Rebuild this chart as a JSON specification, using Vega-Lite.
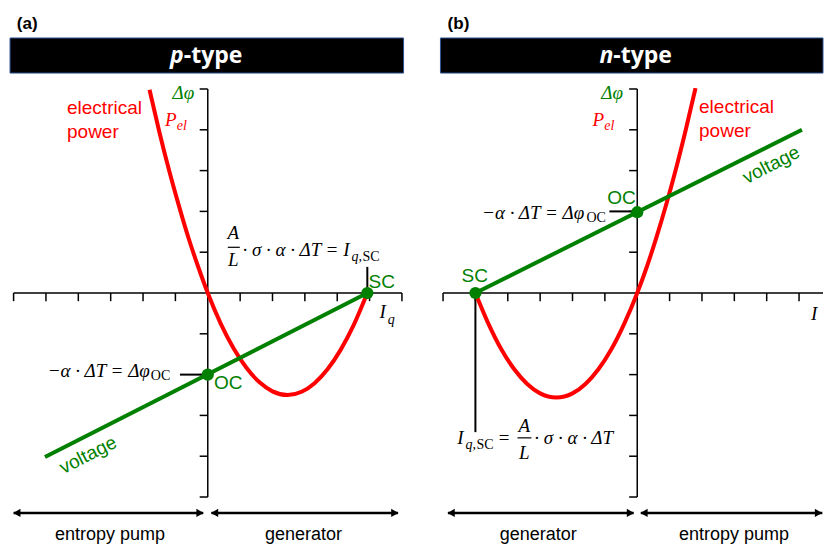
{
  "$schema": "https://vega.github.io/schema/vega-lite/v6.json",
  "width": 824,
  "height": 545,
  "autosize": {"type": "fit", "contains": "padding"},
  "padding": 0,
  "background": "#ffffff",
  "config": {"view": {"stroke": null}},
  "resolve": {"scale": {"x": "independent"}},
  "layer": [
    {
      "layer": [
        {
          "data": {"values": [{"x": -6.11, "x2": 6.05, "y": 5.39, "y2": 6.25}]},
          "mark": {"type": "rect", "fill": "#000000", "stroke": "#2F5597", "strokeWidth": 1},
          "encoding": {
            "x": {"field": "x", "type": "quantitative", "scale": {"domain": [-6.42, 19.01], "nice": false, "zero": false}, "axis": null},
            "x2": {"field": "x2"},
            "y": {"field": "y", "type": "quantitative", "scale": {"domain": [-6.176, 7.181], "nice": false, "zero": false}, "axis": null},
            "y2": {"field": "y2"}
          }
        },
        {
          "data": {"values": [
            {"x": -6, "y": 0, "x2": 6, "y2": 0},
            {"x": 0, "y": -5, "x2": 0, "y2": 5},
            {"x": -6, "y": 0, "x2": -6, "y2": -0.2},
            {"x": -5, "y": 0, "x2": -5, "y2": -0.2},
            {"x": -4, "y": 0, "x2": -4, "y2": -0.2},
            {"x": -3, "y": 0, "x2": -3, "y2": -0.2},
            {"x": -2, "y": 0, "x2": -2, "y2": -0.2},
            {"x": -1, "y": 0, "x2": -1, "y2": -0.2},
            {"x": 1, "y": 0, "x2": 1, "y2": -0.2},
            {"x": 2, "y": 0, "x2": 2, "y2": -0.2},
            {"x": 3, "y": 0, "x2": 3, "y2": -0.2},
            {"x": 4, "y": 0, "x2": 4, "y2": -0.2},
            {"x": 5, "y": 0, "x2": 5, "y2": -0.2},
            {"x": 6, "y": 0, "x2": 6, "y2": -0.2},
            {"x": 0, "y": -5, "x2": -0.25, "y2": -5},
            {"x": 0, "y": -4, "x2": -0.25, "y2": -4},
            {"x": 0, "y": -3, "x2": -0.25, "y2": -3},
            {"x": 0, "y": -2, "x2": -0.25, "y2": -2},
            {"x": 0, "y": -1, "x2": -0.25, "y2": -1},
            {"x": 0, "y": 1, "x2": -0.25, "y2": 1},
            {"x": 0, "y": 2, "x2": -0.25, "y2": 2},
            {"x": 0, "y": 3, "x2": -0.25, "y2": 3},
            {"x": 0, "y": 4, "x2": -0.25, "y2": 4},
            {"x": 0, "y": 5, "x2": -0.25, "y2": 5}
          ]},
          "mark": {"type": "rule", "color": "#000000", "strokeWidth": 1.5},
          "encoding": {
            "x": {"field": "x", "type": "quantitative", "scale": {"domain": [-6.42, 19.01], "nice": false, "zero": false}, "axis": null},
            "x2": {"field": "x2"},
            "y": {"field": "y", "type": "quantitative", "scale": {"domain": [-6.176, 7.181], "nice": false, "zero": false}, "axis": null},
            "y2": {"field": "y2"}
          }
        },
        {
          "data": {"values": [
            {"x": -0.86, "y": -2, "x2": 0, "y2": -2},
            {"x": 4.93, "y": 0, "x2": 4.93, "y2": 0.64}
          ]},
          "mark": {"type": "rule", "color": "#000000", "strokeWidth": 2},
          "encoding": {
            "x": {"field": "x", "type": "quantitative", "scale": {"domain": [-6.42, 19.01], "nice": false, "zero": false}, "axis": null},
            "x2": {"field": "x2"},
            "y": {"field": "y", "type": "quantitative", "scale": {"domain": [-6.176, 7.181], "nice": false, "zero": false}, "axis": null},
            "y2": {"field": "y2"}
          }
        },
        {
          "data": {"values": [{"x": 0.62, "y": 1.12, "x2": 0.99, "y2": 1.12}]},
          "mark": {"type": "rule", "color": "#000000", "strokeWidth": 1.2},
          "encoding": {
            "x": {"field": "x", "type": "quantitative", "scale": {"domain": [-6.42, 19.01], "nice": false, "zero": false}, "axis": null},
            "x2": {"field": "x2"},
            "y": {"field": "y", "type": "quantitative", "scale": {"domain": [-6.176, 7.181], "nice": false, "zero": false}, "axis": null},
            "y2": {"field": "y2"}
          }
        },
        {
          "data": {"values": [
            {"x": -1.8, "y": 4.98, "series": "power"},
            {"x": -1.5, "y": 3.96, "series": "power"},
            {"x": -1.2, "y": 3.02, "series": "power"},
            {"x": -0.9, "y": 2.16, "series": "power"},
            {"x": -0.6, "y": 1.36, "series": "power"},
            {"x": -0.3, "y": 0.65, "series": "power"},
            {"x": 0, "y": 0, "series": "power"},
            {"x": 0.4, "y": -0.75, "series": "power"},
            {"x": 0.8, "y": -1.36, "series": "power"},
            {"x": 1.2, "y": -1.84, "series": "power"},
            {"x": 1.6, "y": -2.19, "series": "power"},
            {"x": 2.0, "y": -2.41, "series": "power"},
            {"x": 2.47, "y": -2.5, "series": "power"},
            {"x": 2.9, "y": -2.42, "series": "power"},
            {"x": 3.3, "y": -2.21, "series": "power"},
            {"x": 3.7, "y": -1.87, "series": "power"},
            {"x": 4.1, "y": -1.4, "series": "power"},
            {"x": 4.5, "y": -0.8, "series": "power"},
            {"x": 4.93, "y": 0, "series": "power"}
          ]},
          "mark": {"type": "line", "strokeWidth": 4, "interpolate": "monotone"},
          "encoding": {
            "x": {"field": "x", "type": "quantitative", "scale": {"domain": [-6.42, 19.01], "nice": false, "zero": false}, "axis": null},
            "y": {"field": "y", "type": "quantitative", "scale": {"domain": [-6.176, 7.181], "nice": false, "zero": false}, "axis": null},
            "color": {"field": "series", "type": "nominal", "scale": {"domain": ["voltage", "power", "none"], "range": ["#008000", "#ff0000", "#000000"]}, "legend": null}
          }
        },
        {
          "data": {"values": [
            {"x": -5.03, "y": -4.02, "series": "voltage"},
            {"x": 4.93, "y": 0, "series": "voltage"}
          ]},
          "mark": {"type": "line", "strokeWidth": 4},
          "encoding": {
            "x": {"field": "x", "type": "quantitative", "scale": {"domain": [-6.42, 19.01], "nice": false, "zero": false}, "axis": null},
            "y": {"field": "y", "type": "quantitative", "scale": {"domain": [-6.176, 7.181], "nice": false, "zero": false}, "axis": null},
            "color": {"field": "series", "type": "nominal", "scale": {"domain": ["voltage", "power", "none"], "range": ["#008000", "#ff0000", "#000000"]}, "legend": null}
          }
        },
        {
          "data": {"values": [{"x": 0, "y": -2}, {"x": 4.93, "y": 0}]},
          "mark": {"type": "point", "filled": true, "opacity": 1, "size": 150, "color": "#008000"},
          "encoding": {
            "x": {"field": "x", "type": "quantitative", "scale": {"domain": [-6.42, 19.01], "nice": false, "zero": false}, "axis": null},
            "y": {"field": "y", "type": "quantitative", "scale": {"domain": [-6.176, 7.181], "nice": false, "zero": false}, "axis": null}
          }
        },
        {
          "data": {"values": [
            {"x": -6.0, "y": -5.39, "x2": -0.14, "y2": -5.39},
            {"x": 0.11, "y": -5.39, "x2": 5.88, "y2": -5.39}
          ]},
          "mark": {"type": "rule", "color": "#000000", "strokeWidth": 2.5},
          "encoding": {
            "x": {"field": "x", "type": "quantitative", "scale": {"domain": [-6.42, 19.01], "nice": false, "zero": false}, "axis": null},
            "x2": {"field": "x2"},
            "y": {"field": "y", "type": "quantitative", "scale": {"domain": [-6.176, 7.181], "nice": false, "zero": false}, "axis": null},
            "y2": {"field": "y2"}
          }
        },
        {
          "data": {"values": [
            {"x": -5.9, "y": -5.39, "dir": "left"},
            {"x": -0.24, "y": -5.39, "dir": "right"},
            {"x": 0.21, "y": -5.39, "dir": "left"},
            {"x": 5.78, "y": -5.39, "dir": "right"}
          ]},
          "mark": {"type": "point", "filled": true, "opacity": 1, "size": 70, "color": "#000000"},
          "encoding": {
            "x": {"field": "x", "type": "quantitative", "scale": {"domain": [-6.42, 19.01], "nice": false, "zero": false}, "axis": null},
            "y": {"field": "y", "type": "quantitative", "scale": {"domain": [-6.176, 7.181], "nice": false, "zero": false}, "axis": null},
            "shape": {"field": "dir", "type": "nominal", "scale": {"domain": ["left", "right"], "range": ["triangle-left", "triangle-right"]}, "legend": null}
          }
        },
        {
          "data": {"values": [
            {"x": -4.35, "y": 4.53, "text": "electrical", "series": "power"},
            {"x": -4.35, "y": 3.95, "text": "power", "series": "power"},
            {"x": 4.97, "y": 0.28, "text": "SC", "series": "voltage"},
            {"x": 0.19, "y": -2.21, "text": "OC", "series": "voltage"}
          ]},
          "mark": {"type": "text", "font": "Liberation Sans", "fontSize": 19, "align": "left", "baseline": "middle"},
          "encoding": {
            "x": {"field": "x", "type": "quantitative", "scale": {"domain": [-6.42, 19.01], "nice": false, "zero": false}, "axis": null},
            "y": {"field": "y", "type": "quantitative", "scale": {"domain": [-6.176, 7.181], "nice": false, "zero": false}, "axis": null},
            "text": {"field": "text"},
            "color": {"field": "series", "type": "nominal", "scale": {"domain": ["voltage", "power", "none"], "range": ["#008000", "#ff0000", "#000000"]}, "legend": null}
          }
        },
        {
          "data": {"values": [{"x": -3.7, "y": -3.97, "text": "voltage", "series": "voltage"}]},
          "mark": {"type": "text", "font": "Liberation Sans", "fontSize": 19, "align": "center", "baseline": "middle", "angle": -27},
          "encoding": {
            "x": {"field": "x", "type": "quantitative", "scale": {"domain": [-6.42, 19.01], "nice": false, "zero": false}, "axis": null},
            "y": {"field": "y", "type": "quantitative", "scale": {"domain": [-6.176, 7.181], "nice": false, "zero": false}, "axis": null},
            "text": {"field": "text"},
            "color": {"field": "series", "type": "nominal", "scale": {"domain": ["voltage", "power", "none"], "range": ["#008000", "#ff0000", "#000000"]}, "legend": null}
          }
        },
        {
          "data": {"values": [
            {"x": -1.79, "y": -1.92, "text": "−α · ΔT = Δφ", "series": "none"},
            {"x": 4.38, "y": 1.05, "text": "· σ · α · ΔT = I", "series": "none"},
            {"x": -0.42, "y": 4.9, "text": "Δφ", "series": "voltage"},
            {"x": -0.96, "y": 4.24, "text": "P", "series": "power"}
          ]},
          "mark": {"type": "text", "font": "Liberation Serif", "fontSize": 19, "fontStyle": "italic", "align": "right", "baseline": "middle"},
          "encoding": {
            "x": {"field": "x", "type": "quantitative", "scale": {"domain": [-6.42, 19.01], "nice": false, "zero": false}, "axis": null},
            "y": {"field": "y", "type": "quantitative", "scale": {"domain": [-6.176, 7.181], "nice": false, "zero": false}, "axis": null},
            "text": {"field": "text"},
            "color": {"field": "series", "type": "nominal", "scale": {"domain": ["voltage", "power", "none"], "range": ["#008000", "#ff0000", "#000000"]}, "legend": null}
          }
        },
        {
          "data": {"values": [
            {"x": 5.31, "y": -0.47, "text": "I", "series": "none"}
          ]},
          "mark": {"type": "text", "font": "Liberation Serif", "fontSize": 19, "fontStyle": "italic", "align": "left", "baseline": "middle"},
          "encoding": {
            "x": {"field": "x", "type": "quantitative", "scale": {"domain": [-6.42, 19.01], "nice": false, "zero": false}, "axis": null},
            "y": {"field": "y", "type": "quantitative", "scale": {"domain": [-6.176, 7.181], "nice": false, "zero": false}, "axis": null},
            "text": {"field": "text"},
            "color": {"field": "series", "type": "nominal", "scale": {"domain": ["voltage", "power", "none"], "range": ["#008000", "#ff0000", "#000000"]}, "legend": null}
          }
        },
        {
          "data": {"values": [
            {"x": 0.79, "y": 1.48, "text": "A", "series": "none"},
            {"x": 0.79, "y": 0.81, "text": "L", "series": "none"}
          ]},
          "mark": {"type": "text", "font": "Liberation Serif", "fontSize": 19, "fontStyle": "italic", "align": "center", "baseline": "middle"},
          "encoding": {
            "x": {"field": "x", "type": "quantitative", "scale": {"domain": [-6.42, 19.01], "nice": false, "zero": false}, "axis": null},
            "y": {"field": "y", "type": "quantitative", "scale": {"domain": [-6.176, 7.181], "nice": false, "zero": false}, "axis": null},
            "text": {"field": "text"},
            "color": {"field": "series", "type": "nominal", "scale": {"domain": ["voltage", "power", "none"], "range": ["#008000", "#ff0000", "#000000"]}, "legend": null}
          }
        },
        {
          "data": {"values": [
            {"x": 4.44, "y": 0.88, "text": "q,", "series": "none"},
            {"x": -0.96, "y": 4.1, "text": "el", "series": "power"},
            {"x": 5.56, "y": -0.66, "text": "q", "series": "none"}
          ]},
          "mark": {"type": "text", "font": "Liberation Serif", "fontSize": 14, "fontStyle": "italic", "align": "left", "baseline": "middle"},
          "encoding": {
            "x": {"field": "x", "type": "quantitative", "scale": {"domain": [-6.42, 19.01], "nice": false, "zero": false}, "axis": null},
            "y": {"field": "y", "type": "quantitative", "scale": {"domain": [-6.176, 7.181], "nice": false, "zero": false}, "axis": null},
            "text": {"field": "text"},
            "color": {"field": "series", "type": "nominal", "scale": {"domain": ["voltage", "power", "none"], "range": ["#008000", "#ff0000", "#000000"]}, "legend": null}
          }
        },
        {
          "data": {"values": [
            {"x": -1.76, "y": -2.03, "text": "OC", "series": "none"},
            {"x": 4.78, "y": 0.88, "text": "SC", "series": "none"}
          ]},
          "mark": {"type": "text", "font": "Liberation Serif", "fontSize": 14, "align": "left", "baseline": "middle"},
          "encoding": {
            "x": {"field": "x", "type": "quantitative", "scale": {"domain": [-6.42, 19.01], "nice": false, "zero": false}, "axis": null},
            "y": {"field": "y", "type": "quantitative", "scale": {"domain": [-6.176, 7.181], "nice": false, "zero": false}, "axis": null},
            "text": {"field": "text"},
            "color": {"field": "series", "type": "nominal", "scale": {"domain": ["voltage", "power", "none"], "range": ["#008000", "#ff0000", "#000000"]}, "legend": null}
          }
        },
        {
          "data": {"values": [
            {"x": -3.02, "y": -5.93, "text": "entropy pump"},
            {"x": 2.96, "y": -5.93, "text": "generator"}
          ]},
          "mark": {"type": "text", "font": "Liberation Sans", "fontSize": 18, "align": "center", "baseline": "middle", "color": "#000000"},
          "encoding": {
            "x": {"field": "x", "type": "quantitative", "scale": {"domain": [-6.42, 19.01], "nice": false, "zero": false}, "axis": null},
            "y": {"field": "y", "type": "quantitative", "scale": {"domain": [-6.176, 7.181], "nice": false, "zero": false}, "axis": null},
            "text": {"field": "text"}
          }
        },
        {
          "data": {"values": [{"x": -5.9, "y": 6.59, "text": "(a)"}]},
          "mark": {"type": "text", "font": "Liberation Sans", "fontSize": 17, "fontWeight": "bold", "align": "left", "baseline": "middle", "color": "#000000"},
          "encoding": {
            "x": {"field": "x", "type": "quantitative", "scale": {"domain": [-6.42, 19.01], "nice": false, "zero": false}, "axis": null},
            "y": {"field": "y", "type": "quantitative", "scale": {"domain": [-6.176, 7.181], "nice": false, "zero": false}, "axis": null},
            "text": {"field": "text"}
          }
        },
        {
          "data": {"values": [{"x": -0.74, "y": 5.81, "text": "p"}]},
          "mark": {"type": "text", "font": "Open Sans", "fontSize": 23, "fontWeight": "bold", "fontStyle": "italic", "align": "right", "baseline": "middle", "color": "#ffffff"},
          "encoding": {
            "x": {"field": "x", "type": "quantitative", "scale": {"domain": [-6.42, 19.01], "nice": false, "zero": false}, "axis": null},
            "y": {"field": "y", "type": "quantitative", "scale": {"domain": [-6.176, 7.181], "nice": false, "zero": false}, "axis": null},
            "text": {"field": "text"}
          }
        },
        {
          "data": {"values": [{"x": -0.74, "y": 5.81, "text": "-type"}]},
          "mark": {"type": "text", "font": "Open Sans", "fontSize": 23, "fontWeight": "bold", "align": "left", "baseline": "middle", "color": "#ffffff"},
          "encoding": {
            "x": {"field": "x", "type": "quantitative", "scale": {"domain": [-6.42, 19.01], "nice": false, "zero": false}, "axis": null},
            "y": {"field": "y", "type": "quantitative", "scale": {"domain": [-6.176, 7.181], "nice": false, "zero": false}, "axis": null},
            "text": {"field": "text"}
          }
        }
      ]
    },
    {
      "layer": [
        {
          "data": {"values": [{"x": -6.08, "x2": 5.74, "y": 5.39, "y2": 6.25}]},
          "mark": {"type": "rect", "fill": "#000000", "stroke": "#2F5597", "strokeWidth": 1},
          "encoding": {
            "x": {"field": "x", "type": "quantitative", "scale": {"domain": [-19.69, 5.74], "nice": false, "zero": false}, "axis": null},
            "x2": {"field": "x2"},
            "y": {"field": "y", "type": "quantitative", "scale": {"domain": [-6.176, 7.181], "nice": false, "zero": false}, "axis": null},
            "y2": {"field": "y2"}
          }
        },
        {
          "data": {"values": [
            {"x": -6, "y": 0, "x2": 5.74, "y2": 0},
            {"x": 0, "y": -5, "x2": 0, "y2": 5},
            {"x": -6, "y": 0, "x2": -6, "y2": -0.2},
            {"x": -5, "y": 0, "x2": -5, "y2": -0.2},
            {"x": -4, "y": 0, "x2": -4, "y2": -0.2},
            {"x": -3, "y": 0, "x2": -3, "y2": -0.2},
            {"x": -2, "y": 0, "x2": -2, "y2": -0.2},
            {"x": -1, "y": 0, "x2": -1, "y2": -0.2},
            {"x": 1, "y": 0, "x2": 1, "y2": -0.2},
            {"x": 2, "y": 0, "x2": 2, "y2": -0.2},
            {"x": 3, "y": 0, "x2": 3, "y2": -0.2},
            {"x": 4, "y": 0, "x2": 4, "y2": -0.2},
            {"x": 5, "y": 0, "x2": 5, "y2": -0.2},
            {"x": 0, "y": -5, "x2": -0.25, "y2": -5},
            {"x": 0, "y": -4, "x2": -0.25, "y2": -4},
            {"x": 0, "y": -3, "x2": -0.25, "y2": -3},
            {"x": 0, "y": -2, "x2": -0.25, "y2": -2},
            {"x": 0, "y": -1, "x2": -0.25, "y2": -1},
            {"x": 0, "y": 1, "x2": -0.25, "y2": 1},
            {"x": 0, "y": 2, "x2": -0.25, "y2": 2},
            {"x": 0, "y": 3, "x2": -0.25, "y2": 3},
            {"x": 0, "y": 4, "x2": -0.25, "y2": 4},
            {"x": 0, "y": 5, "x2": -0.25, "y2": 5}
          ]},
          "mark": {"type": "rule", "color": "#000000", "strokeWidth": 1.5},
          "encoding": {
            "x": {"field": "x", "type": "quantitative", "scale": {"domain": [-19.69, 5.74], "nice": false, "zero": false}, "axis": null},
            "x2": {"field": "x2"},
            "y": {"field": "y", "type": "quantitative", "scale": {"domain": [-6.176, 7.181], "nice": false, "zero": false}, "axis": null},
            "y2": {"field": "y2"}
          }
        },
        {
          "data": {"values": [
            {"x": -0.86, "y": 2, "x2": 0, "y2": 2},
            {"x": -5, "y": 0, "x2": -5, "y2": -3.41}
          ]},
          "mark": {"type": "rule", "color": "#000000", "strokeWidth": 2},
          "encoding": {
            "x": {"field": "x", "type": "quantitative", "scale": {"domain": [-19.69, 5.74], "nice": false, "zero": false}, "axis": null},
            "x2": {"field": "x2"},
            "y": {"field": "y", "type": "quantitative", "scale": {"domain": [-6.176, 7.181], "nice": false, "zero": false}, "axis": null},
            "y2": {"field": "y2"}
          }
        },
        {
          "data": {"values": [{"x": -3.7, "y": -3.55, "x2": -3.27, "y2": -3.55}]},
          "mark": {"type": "rule", "color": "#000000", "strokeWidth": 1.2},
          "encoding": {
            "x": {"field": "x", "type": "quantitative", "scale": {"domain": [-19.69, 5.74], "nice": false, "zero": false}, "axis": null},
            "x2": {"field": "x2"},
            "y": {"field": "y", "type": "quantitative", "scale": {"domain": [-6.176, 7.181], "nice": false, "zero": false}, "axis": null},
            "y2": {"field": "y2"}
          }
        },
        {
          "data": {"values": [
            {"x": -5, "y": 0, "series": "power"},
            {"x": -4.6, "y": -0.75, "series": "power"},
            {"x": -4.2, "y": -1.38, "series": "power"},
            {"x": -3.8, "y": -1.87, "series": "power"},
            {"x": -3.4, "y": -2.23, "series": "power"},
            {"x": -3.0, "y": -2.46, "series": "power"},
            {"x": -2.5, "y": -2.56, "series": "power"},
            {"x": -2.0, "y": -2.46, "series": "power"},
            {"x": -1.6, "y": -2.23, "series": "power"},
            {"x": -1.2, "y": -1.87, "series": "power"},
            {"x": -0.8, "y": -1.38, "series": "power"},
            {"x": -0.4, "y": -0.75, "series": "power"},
            {"x": 0, "y": 0, "series": "power"},
            {"x": 0.3, "y": 0.65, "series": "power"},
            {"x": 0.6, "y": 1.38, "series": "power"},
            {"x": 0.9, "y": 2.18, "series": "power"},
            {"x": 1.2, "y": 3.05, "series": "power"},
            {"x": 1.5, "y": 4.0, "series": "power"},
            {"x": 1.8, "y": 5.02, "series": "power"}
          ]},
          "mark": {"type": "line", "strokeWidth": 4, "interpolate": "monotone"},
          "encoding": {
            "x": {"field": "x", "type": "quantitative", "scale": {"domain": [-19.69, 5.74], "nice": false, "zero": false}, "axis": null},
            "y": {"field": "y", "type": "quantitative", "scale": {"domain": [-6.176, 7.181], "nice": false, "zero": false}, "axis": null},
            "color": {"field": "series", "type": "nominal", "scale": {"domain": ["voltage", "power", "none"], "range": ["#008000", "#ff0000", "#000000"]}, "legend": null}
          }
        },
        {
          "data": {"values": [
            {"x": -5, "y": 0, "series": "voltage"},
            {"x": 5.09, "y": 4.0, "series": "voltage"}
          ]},
          "mark": {"type": "line", "strokeWidth": 4},
          "encoding": {
            "x": {"field": "x", "type": "quantitative", "scale": {"domain": [-19.69, 5.74], "nice": false, "zero": false}, "axis": null},
            "y": {"field": "y", "type": "quantitative", "scale": {"domain": [-6.176, 7.181], "nice": false, "zero": false}, "axis": null},
            "color": {"field": "series", "type": "nominal", "scale": {"domain": ["voltage", "power", "none"], "range": ["#008000", "#ff0000", "#000000"]}, "legend": null}
          }
        },
        {
          "data": {"values": [{"x": -5, "y": 0}, {"x": 0, "y": 1.98}]},
          "mark": {"type": "point", "filled": true, "opacity": 1, "size": 150, "color": "#008000"},
          "encoding": {
            "x": {"field": "x", "type": "quantitative", "scale": {"domain": [-19.69, 5.74], "nice": false, "zero": false}, "axis": null},
            "y": {"field": "y", "type": "quantitative", "scale": {"domain": [-6.176, 7.181], "nice": false, "zero": false}, "axis": null}
          }
        },
        {
          "data": {"values": [
            {"x": -5.85, "y": -5.39, "x2": -0.11, "y2": -5.39},
            {"x": 0.11, "y": -5.39, "x2": 5.72, "y2": -5.39}
          ]},
          "mark": {"type": "rule", "color": "#000000", "strokeWidth": 2.5},
          "encoding": {
            "x": {"field": "x", "type": "quantitative", "scale": {"domain": [-19.69, 5.74], "nice": false, "zero": false}, "axis": null},
            "x2": {"field": "x2"},
            "y": {"field": "y", "type": "quantitative", "scale": {"domain": [-6.176, 7.181], "nice": false, "zero": false}, "axis": null},
            "y2": {"field": "y2"}
          }
        },
        {
          "data": {"values": [
            {"x": -5.75, "y": -5.39, "dir": "left"},
            {"x": -0.21, "y": -5.39, "dir": "right"},
            {"x": 0.21, "y": -5.39, "dir": "left"},
            {"x": 5.6, "y": -5.39, "dir": "right"}
          ]},
          "mark": {"type": "point", "filled": true, "opacity": 1, "size": 70, "color": "#000000"},
          "encoding": {
            "x": {"field": "x", "type": "quantitative", "scale": {"domain": [-19.69, 5.74], "nice": false, "zero": false}, "axis": null},
            "y": {"field": "y", "type": "quantitative", "scale": {"domain": [-6.176, 7.181], "nice": false, "zero": false}, "axis": null},
            "shape": {"field": "dir", "type": "nominal", "scale": {"domain": ["left", "right"], "range": ["triangle-left", "triangle-right"]}, "legend": null}
          }
        },
        {
          "data": {"values": [
            {"x": 1.91, "y": 4.56, "text": "electrical", "series": "power"},
            {"x": 1.91, "y": 3.97, "text": "power", "series": "power"},
            {"x": -0.93, "y": 2.33, "text": "OC", "series": "voltage"},
            {"x": -5.43, "y": 0.42, "text": "SC", "series": "voltage"}
          ]},
          "mark": {"type": "text", "font": "Liberation Sans", "fontSize": 19, "align": "left", "baseline": "middle"},
          "encoding": {
            "x": {"field": "x", "type": "quantitative", "scale": {"domain": [-19.69, 5.74], "nice": false, "zero": false}, "axis": null},
            "y": {"field": "y", "type": "quantitative", "scale": {"domain": [-6.176, 7.181], "nice": false, "zero": false}, "axis": null},
            "text": {"field": "text"},
            "color": {"field": "series", "type": "nominal", "scale": {"domain": ["voltage", "power", "none"], "range": ["#008000", "#ff0000", "#000000"]}, "legend": null}
          }
        },
        {
          "data": {"values": [{"x": 4.14, "y": 3.14, "text": "voltage", "series": "voltage"}]},
          "mark": {"type": "text", "font": "Liberation Sans", "fontSize": 19, "align": "center", "baseline": "middle", "angle": -27},
          "encoding": {
            "x": {"field": "x", "type": "quantitative", "scale": {"domain": [-19.69, 5.74], "nice": false, "zero": false}, "axis": null},
            "y": {"field": "y", "type": "quantitative", "scale": {"domain": [-6.176, 7.181], "nice": false, "zero": false}, "axis": null},
            "text": {"field": "text"},
            "color": {"field": "series", "type": "nominal", "scale": {"domain": ["voltage", "power", "none"], "range": ["#008000", "#ff0000", "#000000"]}, "legend": null}
          }
        },
        {
          "data": {"values": [
            {"x": -1.64, "y": 1.96, "text": "−α · ΔT = Δφ", "series": "none"},
            {"x": -0.44, "y": 4.9, "text": "Δφ", "series": "voltage"},
            {"x": -1.02, "y": 4.24, "text": "P", "series": "power"}
          ]},
          "mark": {"type": "text", "font": "Liberation Serif", "fontSize": 19, "fontStyle": "italic", "align": "right", "baseline": "middle"},
          "encoding": {
            "x": {"field": "x", "type": "quantitative", "scale": {"domain": [-19.69, 5.74], "nice": false, "zero": false}, "axis": null},
            "y": {"field": "y", "type": "quantitative", "scale": {"domain": [-6.176, 7.181], "nice": false, "zero": false}, "axis": null},
            "text": {"field": "text"},
            "color": {"field": "series", "type": "nominal", "scale": {"domain": ["voltage", "power", "none"], "range": ["#008000", "#ff0000", "#000000"]}, "legend": null}
          }
        },
        {
          "data": {"values": [
            {"x": -5.56, "y": -3.55, "text": "I", "series": "none"},
            {"x": -3.18, "y": -3.55, "text": "· σ · α · ΔT", "series": "none"},
            {"x": 5.37, "y": -0.51, "text": "I", "series": "none"}
          ]},
          "mark": {"type": "text", "font": "Liberation Serif", "fontSize": 19, "fontStyle": "italic", "align": "left", "baseline": "middle"},
          "encoding": {
            "x": {"field": "x", "type": "quantitative", "scale": {"domain": [-19.69, 5.74], "nice": false, "zero": false}, "axis": null},
            "y": {"field": "y", "type": "quantitative", "scale": {"domain": [-6.176, 7.181], "nice": false, "zero": false}, "axis": null},
            "text": {"field": "text"},
            "color": {"field": "series", "type": "nominal", "scale": {"domain": ["voltage", "power", "none"], "range": ["#008000", "#ff0000", "#000000"]}, "legend": null}
          }
        },
        {
          "data": {"values": [
            {"x": -4.12, "y": -3.55, "text": "=", "series": "none"},
            {"x": -3.49, "y": -3.26, "text": "A", "series": "none"},
            {"x": -3.49, "y": -3.92, "text": "L", "series": "none"}
          ]},
          "mark": {"type": "text", "font": "Liberation Serif", "fontSize": 19, "fontStyle": "italic", "align": "center", "baseline": "middle"},
          "encoding": {
            "x": {"field": "x", "type": "quantitative", "scale": {"domain": [-19.69, 5.74], "nice": false, "zero": false}, "axis": null},
            "y": {"field": "y", "type": "quantitative", "scale": {"domain": [-6.176, 7.181], "nice": false, "zero": false}, "axis": null},
            "text": {"field": "text"},
            "color": {"field": "series", "type": "nominal", "scale": {"domain": ["voltage", "power", "none"], "range": ["#008000", "#ff0000", "#000000"]}, "legend": null}
          }
        },
        {
          "data": {"values": [
            {"x": -5.31, "y": -3.73, "text": "q,", "series": "none"},
            {"x": -1.02, "y": 4.1, "text": "el", "series": "power"}
          ]},
          "mark": {"type": "text", "font": "Liberation Serif", "fontSize": 14, "fontStyle": "italic", "align": "left", "baseline": "middle"},
          "encoding": {
            "x": {"field": "x", "type": "quantitative", "scale": {"domain": [-19.69, 5.74], "nice": false, "zero": false}, "axis": null},
            "y": {"field": "y", "type": "quantitative", "scale": {"domain": [-6.176, 7.181], "nice": false, "zero": false}, "axis": null},
            "text": {"field": "text"},
            "color": {"field": "series", "type": "nominal", "scale": {"domain": ["voltage", "power", "none"], "range": ["#008000", "#ff0000", "#000000"]}, "legend": null}
          }
        },
        {
          "data": {"values": [
            {"x": -1.57, "y": 1.84, "text": "OC", "series": "none"},
            {"x": -4.97, "y": -3.73, "text": "SC", "series": "none"}
          ]},
          "mark": {"type": "text", "font": "Liberation Serif", "fontSize": 14, "align": "left", "baseline": "middle"},
          "encoding": {
            "x": {"field": "x", "type": "quantitative", "scale": {"domain": [-19.69, 5.74], "nice": false, "zero": false}, "axis": null},
            "y": {"field": "y", "type": "quantitative", "scale": {"domain": [-6.176, 7.181], "nice": false, "zero": false}, "axis": null},
            "text": {"field": "text"},
            "color": {"field": "series", "type": "nominal", "scale": {"domain": ["voltage", "power", "none"], "range": ["#008000", "#ff0000", "#000000"]}, "legend": null}
          }
        },
        {
          "data": {"values": [
            {"x": -3.06, "y": -5.93, "text": "generator"},
            {"x": 2.99, "y": -5.93, "text": "entropy pump"}
          ]},
          "mark": {"type": "text", "font": "Liberation Sans", "fontSize": 18, "align": "center", "baseline": "middle", "color": "#000000"},
          "encoding": {
            "x": {"field": "x", "type": "quantitative", "scale": {"domain": [-19.69, 5.74], "nice": false, "zero": false}, "axis": null},
            "y": {"field": "y", "type": "quantitative", "scale": {"domain": [-6.176, 7.181], "nice": false, "zero": false}, "axis": null},
            "text": {"field": "text"}
          }
        },
        {
          "data": {"values": [{"x": -5.86, "y": 6.59, "text": "(b)"}]},
          "mark": {"type": "text", "font": "Liberation Sans", "fontSize": 17, "fontWeight": "bold", "align": "left", "baseline": "middle", "color": "#000000"},
          "encoding": {
            "x": {"field": "x", "type": "quantitative", "scale": {"domain": [-19.69, 5.74], "nice": false, "zero": false}, "axis": null},
            "y": {"field": "y", "type": "quantitative", "scale": {"domain": [-6.176, 7.181], "nice": false, "zero": false}, "axis": null},
            "text": {"field": "text"}
          }
        },
        {
          "data": {"values": [{"x": -0.74, "y": 5.81, "text": "n"}]},
          "mark": {"type": "text", "font": "Open Sans", "fontSize": 23, "fontWeight": "bold", "fontStyle": "italic", "align": "right", "baseline": "middle", "color": "#ffffff"},
          "encoding": {
            "x": {"field": "x", "type": "quantitative", "scale": {"domain": [-19.69, 5.74], "nice": false, "zero": false}, "axis": null},
            "y": {"field": "y", "type": "quantitative", "scale": {"domain": [-6.176, 7.181], "nice": false, "zero": false}, "axis": null},
            "text": {"field": "text"}
          }
        },
        {
          "data": {"values": [{"x": -0.74, "y": 5.81, "text": "-type"}]},
          "mark": {"type": "text", "font": "Open Sans", "fontSize": 23, "fontWeight": "bold", "align": "left", "baseline": "middle", "color": "#ffffff"},
          "encoding": {
            "x": {"field": "x", "type": "quantitative", "scale": {"domain": [-19.69, 5.74], "nice": false, "zero": false}, "axis": null},
            "y": {"field": "y", "type": "quantitative", "scale": {"domain": [-6.176, 7.181], "nice": false, "zero": false}, "axis": null},
            "text": {"field": "text"}
          }
        }
      ]
    }
  ]
}
